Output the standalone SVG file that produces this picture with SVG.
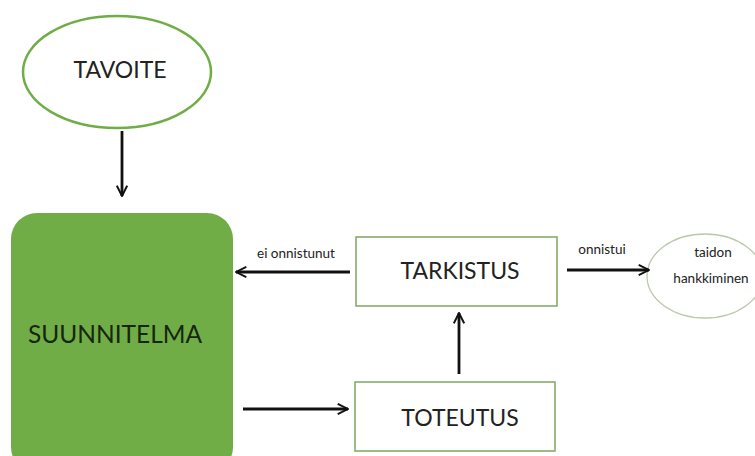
<svg xmlns="http://www.w3.org/2000/svg" width="755" height="456" viewBox="0 0 755 456">
<style>
text{font-family:Lato,"Open Sans","Liberation Sans",sans-serif;fill:#222;text-anchor:middle}
.big{font-size:23px}
.sm{font-size:13.5px}
.box{fill:#fff;stroke:#8aab6a;stroke-width:1.6}
.con{stroke:#111;stroke-width:2.8;fill:none;marker-end:url(#ah)}
</style>
<defs>
<marker id="ah" viewBox="0 0 10 10" refX="9" refY="5" markerWidth="4.6" markerHeight="4.6" orient="auto" markerUnits="strokeWidth">
<path d="M1,1 L9,5 L1,9" fill="none" stroke="#111" stroke-width="1.5" stroke-linejoin="miter"/>
</marker>
</defs>
<rect width="755" height="456" fill="#fff"/>
<g id="tavoite">
<ellipse cx="117" cy="72" rx="94" ry="56" fill="#fff" stroke="#70ad47" stroke-width="2.5"/>
<text class="big" x="120" y="78">TAVOITE</text>
</g>
<g id="suunnitelma">
<rect x="11" y="213" width="222" height="260" rx="26" fill="#70ad47"/>
<text x="115" y="343" style="fill:#17260e;font-size:24.5px">SUUNNITELMA</text>
</g>
<g id="tarkistus">
<rect class="box" x="356" y="237" width="201" height="69"/>
<text class="big" x="460" y="279">TARKISTUS</text>
</g>
<g id="toteutus">
<rect class="box" x="355" y="382" width="200" height="69"/>
<text class="big" x="460" y="426">TOTEUTUS</text>
</g>
<g id="taidon">
<ellipse cx="705" cy="276" rx="58" ry="42" fill="#fff" stroke="#bcc8ad" stroke-width="1.3"/>
<text class="sm" x="713" y="257">taidon</text>
<text class="sm" x="711" y="283">hankkiminen</text>
</g>
<g id="connectors">
<line class="con" x1="122" y1="131" x2="122" y2="196"/>
<line class="con" x1="350" y1="272" x2="236" y2="272"/>
<text class="sm" x="296" y="258">ei onnistunut</text>
<line class="con" x1="243" y1="409" x2="348" y2="409"/>
<line class="con" x1="459" y1="374" x2="459" y2="313"/>
<line class="con" x1="567" y1="270" x2="649" y2="270"/>
<text class="sm" x="602" y="254">onnistui</text>
</g>
</svg>
